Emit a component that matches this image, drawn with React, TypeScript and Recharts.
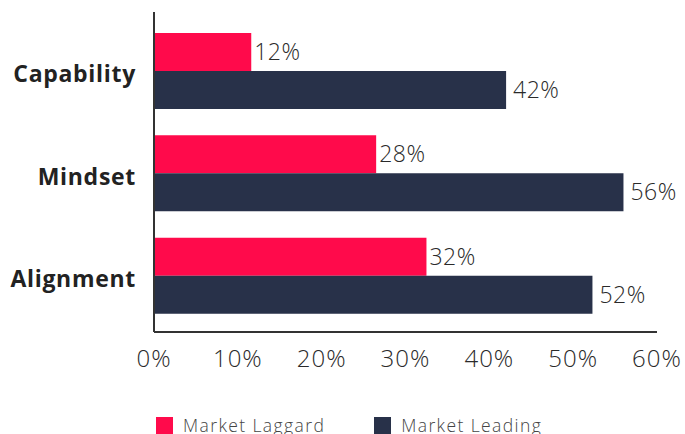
import React from 'react';
import {
  BarChart,
  Bar,
  XAxis,
  YAxis,
  Legend,
  LabelList,
} from 'recharts';

const categories = ['Capability', 'Mindset', 'Alignment'];
const laggard = [11.6, 26.5, 32.5];
const leading = [42, 56, 52.3];
const laggardLabels = ['12%', '28%', '32%'];
const leadingLabels = ['42%', '56%', '52%'];
const xTicks = [0, 10, 20, 30, 40, 50, 60];
const seriesNames = ['Market Laggard', 'Market Leading'];
const seriesColors = ['#FF0A4B', '#283149'];

const data = categories.map((name, i) => ({
  name,
  laggard: laggard[i],
  leading: leading[i],
  laggardLabel: laggardLabels[i],
  leadingLabel: leadingLabels[i],
}));

const font = '"Open Sans", Lato, sans-serif';
const numStyle = { fill: '#2a2a2a', fontSize: 23, fontFamily: font, fontWeight: 300, letterSpacing: 0.5 };

const renderLegend = () => (
  <div style={{ display: 'flex', height: 24, alignItems: 'center', fontFamily: font, fontSize: 17.5, letterSpacing: 1.4, color: '#444' }}>
    {seriesNames.map((n, i) => (
      <div key={n} style={{ display: 'flex', alignItems: 'center', marginRight: i === 0 ? 49 : 0 }}>
        <span style={{ width: 17, height: 17, background: seriesColors[i], marginRight: 10, display: 'inline-block' }} />
        <span style={{ fontWeight: 300 }}>{n}</span>
      </div>
    ))}
  </div>
);

export default function App() {
  return (
    <div style={{ position: 'absolute', left: 0, top: 0 }}>
      <BarChart
        width={685}
        height={434}
        data={data}
        layout="vertical"
        margin={{ top: 12, right: 28, left: 0, bottom: 0 }}
        barCategoryGap={13}
        barGap={0}
      >
        <XAxis
          type="number"
          domain={[0, 60]}
          ticks={xTicks}
          tickFormatter={(v) => `${v}%`}
          axisLine={{ stroke: '#333', strokeWidth: 2 }}
          tickLine={false}
          tick={{ ...numStyle, fontSize: 24, letterSpacing: 1 }}
          tickMargin={12}
          height={78}
        />
        <YAxis
          type="category"
          dataKey="name"
          width={154}
          padding={{ top: 8, bottom: 5 }}
          axisLine={{ stroke: '#333', strokeWidth: 2 }}
          tickLine={false}
          tickMargin={12}
          tick={{ fill: '#222', fontSize: 23, fontFamily: font, fontWeight: 700, letterSpacing: 0.7 }}
          dy={3}
        />
        <Legend
          verticalAlign="bottom"
          align="left"
          wrapperStyle={{ left: 156, bottom: -3, width: 'auto' }}
          content={renderLegend}
        />
        <Bar dataKey="laggard" name={seriesNames[0]} fill={seriesColors[0]} barSize={38} isAnimationActive={false}>
          <LabelList dataKey="laggardLabel" position="right" offset={3} style={numStyle} />
        </Bar>
        <Bar dataKey="leading" name={seriesNames[1]} fill={seriesColors[1]} barSize={38} isAnimationActive={false}>
          <LabelList dataKey="leadingLabel" position="right" offset={7} style={numStyle} />
        </Bar>
      </BarChart>
    </div>
  );
}
